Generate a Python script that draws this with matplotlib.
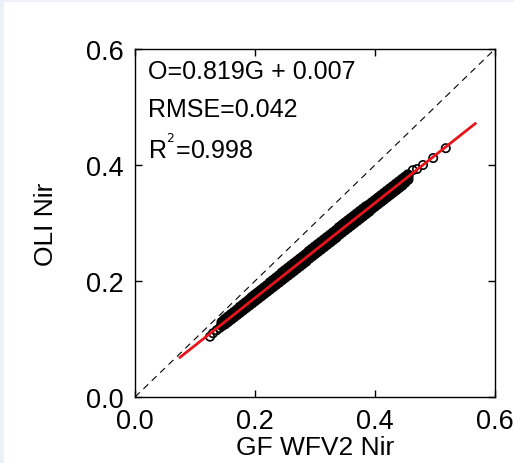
import numpy as np
import matplotlib
matplotlib.use("Agg")
from matplotlib import pyplot as plt
from matplotlib.patches import Rectangle

plt.rcParams['font.family'] = ['Liberation Sans', 'DejaVu Sans']

# GF WFV2 Nir (x) values of the dense band
g_band = [0.145, 0.150, 0.155, 0.160, 0.165, 0.170, 0.175, 0.180, 0.185, 0.190,
          0.195, 0.200, 0.205, 0.210, 0.215, 0.220, 0.225, 0.230, 0.235, 0.240,
          0.245, 0.250, 0.255, 0.260, 0.265, 0.270, 0.275, 0.280, 0.285, 0.290,
          0.295, 0.300, 0.305, 0.310, 0.315, 0.320, 0.325, 0.330, 0.335, 0.340,
          0.345, 0.350, 0.355, 0.360, 0.365, 0.370, 0.375, 0.380, 0.385, 0.390,
          0.395, 0.400, 0.405, 0.410, 0.415, 0.420, 0.425, 0.430, 0.435, 0.440,
          0.445, 0.450, 0.455]
# OLI Nir, upper edge of band
o_upper = [0.129, 0.134, 0.138, 0.142, 0.146, 0.150, 0.155, 0.159, 0.163, 0.167,
           0.172, 0.176, 0.180, 0.184, 0.188, 0.192, 0.197, 0.201, 0.205, 0.209,
           0.214, 0.218, 0.222, 0.226, 0.230, 0.234, 0.238, 0.242, 0.246, 0.251,
           0.255, 0.259, 0.263, 0.267, 0.271, 0.275, 0.279, 0.283, 0.287, 0.292,
           0.296, 0.300, 0.304, 0.308, 0.312, 0.316, 0.320, 0.324, 0.328, 0.331,
           0.335, 0.339, 0.343, 0.347, 0.351, 0.355, 0.359, 0.363, 0.367, 0.371,
           0.375, 0.379, 0.383]
# OLI Nir, middle of band
o_mid = [0.126, 0.130, 0.134, 0.138, 0.142, 0.146, 0.150, 0.155, 0.158, 0.163,
         0.167, 0.171, 0.175, 0.179, 0.183, 0.187, 0.191, 0.196, 0.199, 0.204,
         0.208, 0.212, 0.216, 0.220, 0.224, 0.228, 0.232, 0.236, 0.240, 0.245,
         0.249, 0.253, 0.257, 0.261, 0.265, 0.269, 0.273, 0.277, 0.281, 0.286,
         0.290, 0.294, 0.298, 0.302, 0.306, 0.310, 0.314, 0.318, 0.322, 0.326,
         0.330, 0.335, 0.339, 0.343, 0.347, 0.351, 0.355, 0.359, 0.363, 0.367,
         0.371, 0.376, 0.380]
# OLI Nir, lower edge of band
o_lower = [0.123, 0.126, 0.130, 0.134, 0.138, 0.142, 0.146, 0.150, 0.154, 0.158,
           0.162, 0.166, 0.170, 0.174, 0.178, 0.182, 0.186, 0.190, 0.194, 0.198,
           0.202, 0.206, 0.210, 0.214, 0.218, 0.222, 0.226, 0.230, 0.234, 0.239,
           0.243, 0.247, 0.251, 0.255, 0.259, 0.263, 0.267, 0.271, 0.275, 0.280,
           0.284, 0.288, 0.292, 0.296, 0.300, 0.304, 0.308, 0.312, 0.316, 0.320,
           0.325, 0.329, 0.333, 0.337, 0.341, 0.345, 0.349, 0.353, 0.357, 0.361,
           0.365, 0.370, 0.375]
# sparse points at both ends of the band
g_sparse = [0.125, 0.130, 0.136, 0.141, 0.463, 0.470, 0.480, 0.497, 0.518]
o_sparse = [0.104, 0.110, 0.115, 0.119, 0.391, 0.393, 0.400, 0.412, 0.429]

# regression result
slope = 0.819
intercept = 0.007
fit_range = [0.075, 0.567]
rmse = 0.042
r2 = 0.998

fig = plt.figure(figsize=(5.14, 4.64), dpi=100)
fig.patch.set_facecolor('white')
# light frame of the screenshot
fig.patches.append(Rectangle((0, 0), 4/514, 1, transform=fig.transFigure,
                             facecolor='#edf2f8', edgecolor='none', zorder=0))
fig.patches.append(Rectangle((0, 1-3/464), 1, 3/464, transform=fig.transFigure,
                             facecolor='#edf2f8', edgecolor='none', zorder=0))

ax = fig.add_axes([135/514, 1-398/464, 360/514, 348/464])

ax.plot([0, 0.6], [0, 0.6], color='black', lw=0.8, dashes=(6, 4.5), zorder=1)

for o_vals in [o_upper, o_mid, o_lower]:
    ax.scatter(g_band, o_vals, s=40, facecolors='none', edgecolors='black', linewidths=1.6, zorder=2)
ax.scatter(g_sparse, o_sparse, s=36, facecolors='none', edgecolors='black', linewidths=1.2, zorder=2)

fx = np.array(fit_range)
ax.plot(fx, slope*fx + intercept, color='#e8141c', lw=2, zorder=3)

ax.set_xlim(0, 0.6)
ax.set_ylim(0, 0.6)
ax.set_xticks([0.0, 0.2, 0.4, 0.6])
ax.set_yticks([0.0, 0.2, 0.4, 0.6])
ax.set_xticklabels(['0.0', '0.2', '0.4', '0.6'])
ax.set_yticklabels(['0.0', '0.2', '0.4', '0.6'])
ax.tick_params(direction='in', top=True, right=True, length=5, width=1,
               labelsize=19.5, pad=8)
for sp in ax.spines.values():
    sp.set_linewidth(1)

ax.set_xlabel('GF WFV2 Nir', fontsize=19, labelpad=1)
ax.set_ylabel('OLI Nir', fontsize=19, labelpad=20)

ax.text(0.036, 0.937, 'O=%.3fG + %.3f' % (slope, intercept), transform=ax.transAxes,
        fontsize=18, va='center', ha='left')
ax.text(0.036, 0.828, 'RMSE=%.3f' % rmse, transform=ax.transAxes,
        fontsize=18, va='center', ha='left')
ax.text(0.036, 0.716, 'R$^{^2}$=%.3f' % r2, transform=ax.transAxes,
        fontsize=18, va='center', ha='left')

plt.savefig('out.png', dpi=100)
